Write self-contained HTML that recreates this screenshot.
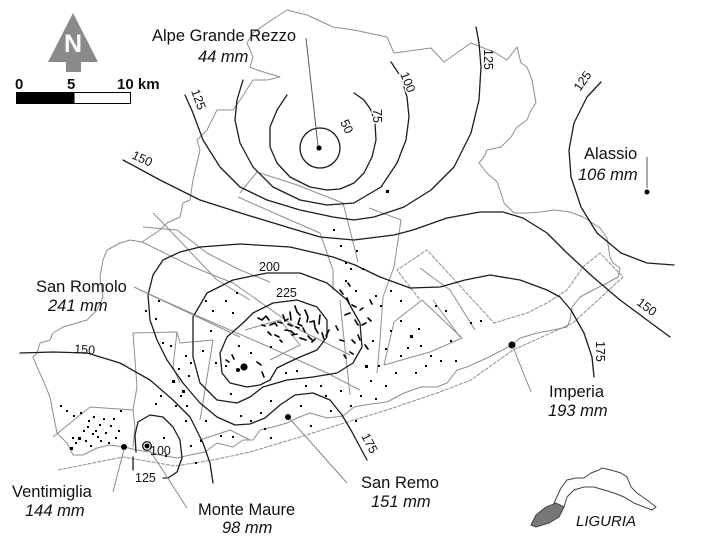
<!DOCTYPE html>
<html><head><meta charset="utf-8"><style>
html,body{margin:0;padding:0;background:#fff;}
svg{display:block;}
text{font-family:"Liberation Sans",Arial,sans-serif;fill:#111;}
.lab{font-size:16.5px;}
.it{font-size:16.5px;font-style:italic;}
.cl{font-size:12.5px;}
.halo{paint-order:stroke;stroke:#fff;stroke-width:3px;}
.g{fill:none;stroke:#8e8e8e;stroke-width:1;stroke-linejoin:round;}
.c{fill:none;stroke:#1c1c1c;stroke-width:1.3;stroke-linejoin:round;stroke-linecap:round;}
.ld{fill:none;stroke:#8a8a8a;stroke-width:1;}
</style></head><body>
<svg width="708" height="541" viewBox="0 0 708 541" xmlns="http://www.w3.org/2000/svg">
<rect width="708" height="541" fill="#fff"/>

<!-- gray boundaries -->
<polyline class="g" points="73,455 67,443 57,433 53,413 50,397 43,380 37,367 33,357 37,353 40,343 50,340 53,333 63,327 77,323 87,320 97,310 103,297 100,277 103,260 107,250 120,243 130,240 142,242 160,230 167,223 180,217 183,203 190,200 193,180 197,163 200,150 197,140 207,130 217,110 233,110 240,100 253,80 267,80 280,77 257,70 250,67 253,57 247,43 253,33 267,23 287,10 307,15 333,27 354,30 387,37 394,53 431,48 444,62 471,43 481,47 494,52 507,60 517,47 521,63 527,67 532,80 536,103 531,110 527,120 517,127 511,137 501,147 487,150 484,157 479,163 487,173 497,182 501,193 504,203 514,213 527,213 541,212 554,210 570,212 583,217 600,228 607,238 610,257 613,263 620,268 618,277 607,283 593,290 580,297 572,307 570,320 567,327 553,330 537,333 520,338 512,345 487,358 467,367 457,370 447,383 437,387 421,387 404,393 387,402 371,404 354,407 343,416 327,418 310,413 297,418 287,423 273,427 260,430 253,440 243,440 233,447 217,443 205,452 190,455 177,458 160,455 150,452 137,450 124,447 110,445 97,448 83,455 73,455"/>
<polyline class="g" stroke-dasharray="4,1" points="58,470 123,457 175,466 213,460 250,452 300,437 354,420 387,410 437,393 471,380 513,350 573,323 623,277 600,253 583,267 567,290 547,303 527,313 494,323 427,250 397,270 420,300"/>
<polyline class="g" points="53,437 90,407 133,410 135,427 133,447"/>
<polyline class="g" points="133,410 137,387 133,333 177,332 173,367 180,383"/>
<polyline class="g" points="177,332 180,343 213,340 205,390 200,420"/>
<polyline class="g" points="153,213 160,220 217,280 250,300"/>
<polyline class="g" points="143,227 177,230 207,253 240,270 270,282"/>
<polyline class="g" points="140,290 200,317 260,343 327,373 360,390"/>
<polyline class="g" points="142,242 193,267 233,283 300,330 350,355"/>
<polyline class="g" points="240,193 257,172 297,185 343,203 353,242 358,262"/>
<polyline class="g" points="238,197 290,220 320,233 333,270 333,290"/>
<polyline class="g" points="369,208 401,220 394,267 383,297 380,340 377,373"/>
<polyline class="g" points="340,300 343,330 347,367 350,395"/>
<polyline class="g" points="394,322 422,300 462,338 430,352 384,365 394,322"/>
<polyline class="g" points="433,300 460,337"/>
<polyline class="g" points="420,268 450,290 475,330"/>
<polyline class="g" points="245,330 280,320 300,345 270,360"/>
<polyline class="g" points="200,440 230,430 250,440"/>

<!-- contours -->
<circle class="c" cx="320" cy="148" r="20"/>
<polyline class="c" points="354,93 364,100 371,110 375,123 376,140 372,157 364,173 354,183 340,189 327,190 310,187 290,177 277,163 270,147 270,127 277,110 287,95"/>
<polyline class="c" points="243,80 237,100 235,120 240,143 253,167 273,187 300,200 327,205 354,203 364,197 381,187 397,163 406,140 409,117 407,97 401,77 391,62"/>
<polyline class="c" points="476,27 479,43 481,67 479,100 471,133 454,167 431,190 404,207 374,217 354,220 333,217 300,210 267,200 240,187 220,167 203,140 193,113 185,95"/>
<polyline class="c" points="123,160 160,180 200,200 247,215 290,228 320,237 354,240 394,235 413,230 447,218 480,212 503,212 523,218 547,233 567,253 593,277 620,300 647,320 670,337"/>
<polyline class="c" points="594,377 592,357 584,333 571,310 560,297 547,290 520,280 490,275 465,280 440,287 410,288 380,277 355,265 333,257 290,247 240,244 200,247 180,252 163,260 153,275 148,295 150,320 157,340 167,360 183,383 200,403 217,417 235,425 250,424 265,418 280,405 295,395 313,393 330,400 342,415 352,432 360,447 367,460"/>
<polygon class="c" points="193,317 207,293 233,280 267,273 300,273 327,283 347,300 360,323 362,347 353,363 337,373 313,377 287,380 263,387 250,397 237,403 217,400 200,383 193,357"/>
<polygon class="c" points="220,353 227,337 243,323 253,313 273,303 297,300 317,307 327,320 327,337 317,350 300,357 287,363 277,368 270,380 260,385 247,387 230,383 222,373"/>
<polyline class="c" points="20,353 53,352 87,353 120,363 150,380 173,400 190,417 203,443 210,463 213,483"/>
<polyline class="c" points="163,478 168,478 177,472 182,458 180,440 173,427 163,417 150,415 138,422 135,435 136,452"/>
<polyline class="c" points="133,457 133,470"/>
<polyline class="c" points="601,82 587,97 574,123 569,150 571,177 581,207 597,233 621,253 647,263 674,265"/>

<!-- dots -->
<path fill="#000" d="M60 405h2v2h-2zM66 410h2v2h-2zM73 415h2v2h-2zM80 412h2v2h-2zM88 420h2v2h-2zM95 430h2v2h-2zM83 430h2v2h-2zM78 437h3v3h-3zM85 440h2v2h-2zM75 442h2v2h-2zM90 445h2v2h-2zM100 440h2v2h-2zM105 432h2v2h-2zM110 425h2v2h-2zM103 418h2v2h-2zM115 437h2v2h-2zM118 430h2v2h-2zM97 436h2v2h-2zM70 447h3v3h-3zM92 433h2v2h-2zM108 442h2v2h-2zM113 418h2v2h-2zM120 410h2v2h-2zM87 426h2v2h-2zM99 424h2v2h-2zM93 416h2v2h-2zM72 437h2v2h-2zM145 310h2v2h-2zM155 318h2v2h-2zM162 342h2v2h-2zM185 355h2v2h-2zM190 362h2v2h-2zM188 375h2v2h-2zM180 395h2v2h-2zM175 405h2v2h-2zM172 380h3v3h-3zM160 395h2v2h-2zM155 403h2v2h-2zM163 437h2v2h-2zM165 455h2v2h-2zM185 420h2v2h-2zM190 445h2v2h-2zM195 462h2v2h-2zM200 440h2v2h-2zM170 345h2v2h-2zM178 368h2v2h-2zM182 390h3v3h-3zM186 405h2v2h-2zM158 300h2v2h-2zM205 300h2v2h-2zM210 330h2v2h-2zM215 362h2v2h-2zM230 393h2v2h-2zM240 415h2v2h-2zM250 420h2v2h-2zM260 412h2v2h-2zM270 400h2v2h-2zM300 405h2v2h-2zM305 385h2v2h-2zM320 385h2v2h-2zM340 390h2v2h-2zM350 405h2v2h-2zM355 420h2v2h-2zM330 410h2v2h-2zM310 425h2v2h-2zM225 300h2v2h-2zM236 292h2v2h-2zM212 310h2v2h-2zM202 350h2v2h-2zM345 280h2v2h-2zM355 290h2v2h-2zM372 340h2v2h-2zM375 295h2v2h-2zM380 305h2v2h-2zM390 290h2v2h-2zM400 300h2v2h-2zM390 330h2v2h-2zM400 320h2v2h-2zM410 335h3v3h-3zM420 345h2v2h-2zM430 355h2v2h-2zM440 360h2v2h-2zM425 365h2v2h-2zM450 340h2v2h-2zM455 360h2v2h-2zM445 310h2v2h-2zM435 305h2v2h-2zM400 355h2v2h-2zM395 372h2v2h-2zM415 372h2v2h-2zM470 322h2v2h-2zM480 320h2v2h-2zM370 380h2v2h-2zM385 385h2v2h-2zM333 229h2v2h-2zM340 245h2v2h-2zM345 262h2v2h-2zM350 268h2v2h-2zM356 250h2v2h-2zM362 268h2v2h-2zM386 190h3v3h-3zM407 347h2v2h-2zM418 328h2v2h-2zM385 348h2v2h-2zM365 365h3v3h-3zM378 365h2v2h-2zM285 372h2v2h-2zM296 370h2v2h-2zM232 312h2v2h-2zM238 345h2v2h-2zM250 352h2v2h-2zM225 365h2v2h-2zM270 346h2v2h-2zM205 420h2v2h-2zM220 435h2v2h-2zM232 436h2v2h-2zM264 428h2v2h-2zM270 437h2v2h-2zM325 395h2v2h-2zM375 398h2v2h-2zM360 395h2v2h-2z"/>
<path fill="none" stroke="#000" stroke-width="1.6" stroke-linecap="round" d="M258 318l4 2 3-3M266 316l3 4M270 325l5-2 2 3M278 322l4 1M283 315l2 6 3-2M290 312l1 8M295 306l2 6 3 3M300 318l-2 6 4 2M305 310l3 7-1 5M310 322l4-1 1 6M315 328l3 5M320 315l-1 9M285 330l6 1 3 3M292 335l5-1M300 338l6 2M308 336l4 4M275 335l4 2M268 332l3 3M280 340l2 2M312 342l3-3M322 333l2 6M329 330l-3 6M288 324l4 2M296 327l3 1M303 328l2 4M262 325l3 1M340 290l3 4M347 298l2 5M352 305l4 2M345 315l5-2M355 320l3 5M362 325l4-2M358 335l2 5M340 340l4 1M365 345l3 4M350 352l3 2M344 355l2 3M370 300l2 4M336 326l2 4M348 283l2 3M360 310l3-2M352 340l3 3M368 318l3 3M232 355l2 4M226 360l3 2M257 362l4 3M262 372l2 5"/>

<!-- station dots -->
<circle cx="319" cy="148" r="2.6" fill="#000"/>
<circle cx="647" cy="192" r="2.5" fill="#000"/>
<circle cx="244" cy="367" r="3.6" fill="#000"/>
<circle cx="238" cy="370" r="2" fill="#000"/>
<circle cx="288" cy="417" r="3" fill="#000"/>
<circle cx="512" cy="345" r="3.5" fill="#000"/>
<circle cx="124" cy="447" r="3" fill="#000"/>
<circle cx="147" cy="446" r="4.3" fill="none" stroke="#000" stroke-width="1.2"/>
<circle cx="147" cy="446" r="2.5" fill="#000"/>

<!-- leaders -->
<line x1="306" y1="38" x2="318" y2="146" stroke="#555" stroke-width="1"/>
<line x1="647" y1="157" x2="647" y2="188" stroke="#555" stroke-width="1"/>
<line class="ld" x1="113" y1="492" x2="124" y2="449"/>
<line class="ld" x1="149" y1="449" x2="187" y2="508"/>
<line class="ld" x1="290" y1="419" x2="347" y2="483"/>
<line class="ld" x1="513" y1="347" x2="531" y2="392"/>
<line class="ld" x1="134" y1="287" x2="240" y2="337"/>

<!-- contour labels -->
<text class="cl halo" transform="translate(340,122) rotate(65)">50</text>
<text class="cl halo" transform="translate(373,109) rotate(90)">75</text>
<text class="cl halo" transform="translate(400,74) rotate(68)">100</text>
<text class="cl" transform="translate(484,49) rotate(90)">125</text>
<text class="cl" transform="translate(191,91) rotate(70)">125</text>
<text class="cl" transform="translate(131,158) rotate(25)">150</text>
<text class="cl" transform="translate(636,304) rotate(37)">150</text>
<text class="cl" transform="translate(596,341) rotate(90)">175</text>
<text class="cl halo" transform="translate(361,436) rotate(62)">175</text>
<text class="cl" transform="translate(580,92) rotate(-55)">125</text>
<text class="cl" x="259" y="271">200</text>
<text class="cl" x="276" y="297">225</text>
<text class="cl" transform="translate(74,353) rotate(4)">150</text>
<text class="cl" x="150" y="455">100</text>
<text class="cl" x="135" y="482">125</text>

<!-- place labels -->
<text class="lab" x="152" y="41">Alpe Grande Rezzo</text>
<text class="it" x="198" y="62">44 mm</text>
<text class="lab" x="584" y="159">Alassio</text>
<text class="it" x="578" y="180">106 mm</text>
<text class="lab" x="36" y="292">San Romolo</text>
<text class="it" x="48" y="311">241 mm</text>
<text class="lab" x="549" y="397">Imperia</text>
<text class="it" x="548" y="416">193 mm</text>
<text class="lab" x="12" y="497">Ventimiglia</text>
<text class="it" x="25" y="516">144 mm</text>
<text class="lab" x="198" y="515">Monte Maure</text>
<text class="it" x="222" y="533">98 mm</text>
<text class="lab" x="361" y="488">San Remo</text>
<text class="it" x="371" y="507">151 mm</text>

<!-- north arrow -->
<polygon points="73,13 98,62 81,62 81,72 66,72 66,62 48,62" fill="#8a8a8a"/>
<text x="73" y="52" text-anchor="middle" style="font-size:25px;font-weight:bold;fill:#fff;">N</text>

<!-- scale bar -->
<text x="15" y="89" style="font-size:15px;font-weight:bold;">0</text>
<text x="67" y="89" style="font-size:15px;font-weight:bold;">5</text>
<text x="117" y="89" style="font-size:15px;font-weight:bold;">10 km</text>
<rect x="74" y="92.5" width="56.5" height="11" fill="#fff" stroke="#000" stroke-width="1"/>
<rect x="16" y="92" width="58" height="12" fill="#000"/>

<!-- inset Liguria -->
<polygon points="554,503 561,488 567,480 576,478 584,478 591,473 599,470 602,468 611,470 621,473 627,477 631,487 637,493 647,500 656,507 652,510 644,507 634,503 624,497 614,493 604,490 594,487 584,487 574,490 567,497 564,507" fill="#fff" stroke="#444" stroke-width="1"/>
<polygon points="531,525 536,515 546,507 556,503 564,507 559,517 549,523 536,527" fill="#777" stroke="#444" stroke-width="1"/>
<text x="576" y="526" style="font-size:15px;font-style:italic;">LIGURIA</text>
</svg>
</body></html>
